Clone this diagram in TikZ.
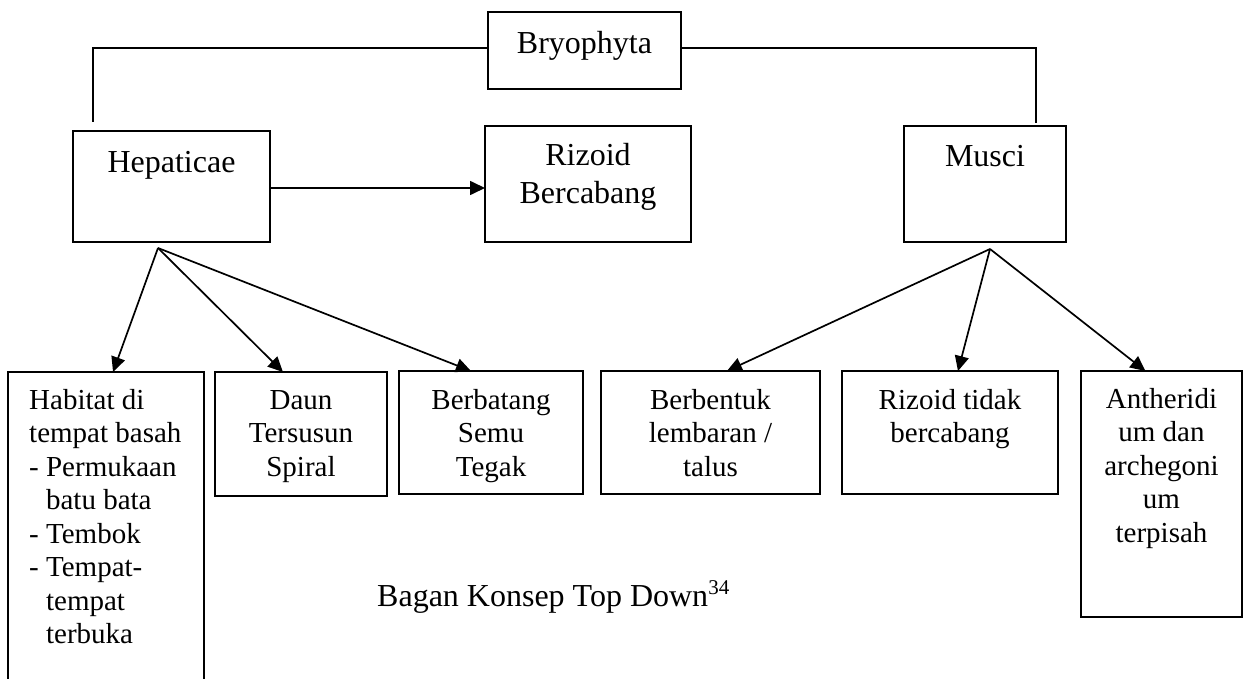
\documentclass[tikz,border=0pt]{standalone}
\usepackage{fontspec}
\setmainfont{Liberation Serif}
\usetikzlibrary{arrows.meta,calc}
\newcommand\firstln{\rule{0pt}{21pt}}
\newcommand\firstlnbig{\rule{0pt}{24pt}}
\begin{document}
\begin{tikzpicture}[x=1pt,y=-1pt,
  box/.style={draw, line width=1.9pt, rectangle, inner sep=0pt, outer sep=0pt, anchor=north west},
  txt/.style={inner sep=0pt, font=\fontsize{29}{33.5}\selectfont, align=center, anchor=north},
  bigtxt/.style={txt, font=\fontsize{32}{38}\selectfont},
  link/.style={line width=1.7pt},
  arr/.style={line width=1.7pt, -{Triangle[length=15pt,width=14pt]}}]
\useasboundingbox (0,0) rectangle (1250,679);
\clip (0,0) rectangle (1250,679);
% boxes
\node[box, minimum width=193pt, minimum height=77pt] (bryo) at (488,12) {};
\node[box, minimum width=197pt, minimum height=111pt] (hep) at (73,131) {};
\node[box, minimum width=206pt, minimum height=116pt] (rizB) at (485,126) {};
\node[box, minimum width=162pt, minimum height=116pt] (musci) at (904,126) {};
\node[box, minimum width=196pt, minimum height=330pt] (hab) at (8,372) {};
\node[box, minimum width=172pt, minimum height=124pt] (daun) at (215,372) {};
\node[box, minimum width=184pt, minimum height=123pt] (batang) at (399,371) {};
\node[box, minimum width=219pt, minimum height=123pt] (bentuk) at (601,371) {};
\node[box, minimum width=216pt, minimum height=123pt] (rizT) at (842,371) {};
\node[box, minimum width=161pt, minimum height=246pt] (anth) at (1081,371) {};
% texts
\node[bigtxt] (bryoT) at (584.5,29) {\firstlnbig Bryophyta};
\node[bigtxt] (hepT) at (171.5,148) {\firstlnbig Hepaticae};
\node[bigtxt] (rizBT) at (588,141) {\firstlnbig Rizoid\\Bercabang};
\node[bigtxt] (musciT) at (985,142) {\firstlnbig Musci};
\node[txt, align=left, anchor=north west] (habT) at (29,388) {\firstln Habitat di\\tempat basah\\- Permukaan\\\hphantom{- }batu bata\\- Tembok\\- Tempat-\\\hphantom{- }tempat\\\hphantom{- }terbuka};
\node[txt] (daunT) at (301,388) {\firstln Daun\\Tersusun\\Spiral};
\node[txt] (batangT) at (491,388) {\firstln Berbatang\\Semu\\Tegak};
\node[txt] (bentukT) at (710.5,388) {\firstln Berbentuk\\lembaran /\\talus};
\node[txt] (rizTT) at (950,388) {\firstln Rizoid tidak\\bercabang};
\node[txt] (anthT) at (1161.5,387) {\firstln Antheridi\\um dan\\archegoni\\um\\terpisah};
\node[bigtxt, anchor=base west] (cap) at (377,606) {Bagan Konsep Top Down\raisebox{12pt}{\fontsize{21}{21}\selectfont 34}};
% connectors
\coordinate (hepTop) at (93,122);
\coordinate (musTop) at (1036,123);
\draw[link] ([yshift=2.5pt]bryo.west) -| (hepTop);
\draw[link] ([yshift=2.5pt]bryo.east) -| (musTop);
\draw[arr] ([yshift=-1.5pt]hep.east) -- ([yshift=-1.5pt]hep.east -| rizB.west);
\coordinate (hepO) at (158,248);
\coordinate (musO) at (990,249);
\draw[arr] (hepO) -- ($(hab.north west)!0.536!(hab.north east)$);
\draw[arr] (hepO) -- ($(daun.north west)!0.395!(daun.north east)$);
\draw[arr] (hepO) -- ($(batang.north west)!0.391!(batang.north east)$);
\draw[arr] (musO) -- ($(bentuk.north west)!0.575!(bentuk.north east)$);
\draw[arr] (musO) -- ($(rizT.north west)!0.537!(rizT.north east)$);
\draw[arr] (musO) -- ($(anth.north west)!0.40!(anth.north east)$);
\end{tikzpicture}
\end{document}
